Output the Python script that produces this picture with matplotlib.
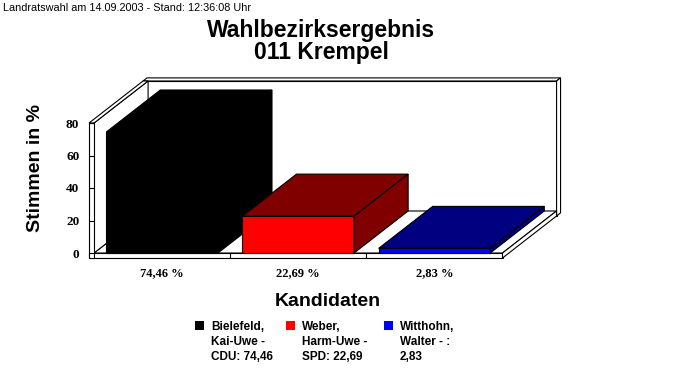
import matplotlib
matplotlib.use("Agg")
import matplotlib.pyplot as plt
from matplotlib.patches import Polygon, Rectangle

# Daten
kandidaten = ["Bielefeld,\nKai-Uwe -\nCDU: 74,46",
              "Weber,\nHarm-Uwe -\nSPD: 22,69",
              "Witthohn,\nWalter - :\n2,83"]
anteile = [74.46, 22.69, 2.83]
werte_text = ["74,46 %", "22,69 %", "2,83 %"]
front_farben = ["#000000", "#ff0000", "#0000ff"]
seiten_farben = ["#000000", "#800000", "#000080"]
yticks = [0, 20, 40, 60, 80]

W, H = 683, 380
SANS = ["Liberation Sans", "DejaVu Sans"]
SERIF = ["Liberation Serif", "DejaVu Serif"]

fig = plt.figure(figsize=(W / 100, H / 100), dpi=100)
ax = fig.add_axes([89 / W, 1 - 253 / H, 413.5 / W, 130 / H])
ax.set_xlim(-0.537, 2.5)
ax.set_ylim(0, 80)
for s in ax.spines.values():
    s.set_visible(False)
ax.patch.set_visible(False)

# schraege Tiefe (in Datenkoordinaten)
DX, DY = 0.397, 25.85
WAND = 0.037
BODEN = 3.08


def proj(x, y, z):
    return (x + z * DX, y + z * DY)


def face(pts, color, z=1):
    ax.add_patch(Polygon([proj(*p) for p in pts], closed=True, fc=color,
                         ec="black", lw=0.8, clip_on=False, zorder=z))


def box(x0, x1, y0, y1, z0, z1, front, side, z=1):
    face([(x0, y0, z0), (x1, y0, z0), (x1, y1, z0), (x0, y1, z0)], front, z)
    face([(x0, y1, z0), (x1, y1, z0), (x1, y1, z1), (x0, y1, z1)], side, z)
    face([(x1, y0, z0), (x1, y0, z1), (x1, y1, z1), (x1, y1, z0)], side, z)


x0 = -0.5 - WAND
# Rueckwand
box(x0, 2.5, -BODEN, 80, 1, 1.074, "white", "white", z=1)
# Boden
face([(x0, -BODEN, 0), (2.5, -BODEN, 0), (2.5, 0, 0), (x0, 0, 0)], "white", 1)
face([(-0.5, 0, 0), (2.5, 0, 0), (2.5, 0, 1), (-0.5, 0, 1)], "white", 1)
face([(2.5, -BODEN, 0), (2.5, -BODEN, 1), (2.5, 0, 1), (2.5, 0, 0)], "white", 1)
ax.vlines([0.5, 1.5], -BODEN, 0, colors="black", lw=0.8, clip_on=False, zorder=2)
# linke Wand
face([(-0.5, 0, 0), (-0.5, 0, 1), (-0.5, 80, 1), (-0.5, 80, 0)], "white", 1)
face([(x0, 80, 0), (-0.5, 80, 0), (-0.5, 80, 1), (x0, 80, 1)], "white", 1)
face([(x0, -BODEN, 0), (-0.5, -BODEN, 0), (-0.5, 80, 0), (x0, 80, 0)], "white", 1)

# Balken
breite = 0.82
for i, v in enumerate(anteile):
    box(i - breite / 2, i + breite / 2, 0, v, 0, 1,
        front_farben[i], seiten_farben[i], z=3)

ax.set_yticks(yticks)
ax.set_yticklabels([str(t) for t in yticks], fontfamily=SERIF,
                   fontweight="bold", fontsize=9.5)
ax.tick_params(axis="y", direction="in", length=3.6, width=0.8, pad=7)
ax.set_xticks(range(len(werte_text)))
ax.set_xticklabels(werte_text, fontfamily=SERIF, fontweight="bold", fontsize=9)
ax.tick_params(axis="x", length=0, pad=10.5)
for t in ax.get_yticklines() + ax.get_xticklines():
    t.set_zorder(5)

# Texte
fig.text(3 / W, 1 - 11 / H, "Landratswahl am 14.09.2003 - Stand: 12:36:08 Uhr",
         fontsize=7.8, family=SANS, va="baseline", ha="left")
fig.text(321 / W, 1 - 19.5 / H, "Wahlbezirksergebnis\n011 Krempel", fontsize=16.5,
         fontweight="bold", family=SANS, ha="center", va="top",
         multialignment="center", linespacing=0.9)
fig.text(36 / W, 1 - 168 / H, "Stimmen in %", fontsize=14, fontweight="bold",
         family=SANS, rotation=90, ha="center", va="center")
fig.text(328 / W, 1 - 306 / H, "Kandidaten", fontsize=14, fontweight="bold",
         family=SANS, ha="center", va="baseline")

# Legende
leg_x = [195, 286, 384]
for i, lab in enumerate(kandidaten):
    fig.add_artist(Rectangle((leg_x[i] / W, 1 - 330 / H), 9 / W, 9 / H,
                             transform=fig.transFigure, fc=front_farben[i],
                             ec="none"))
    for j, zeile in enumerate(lab.split("\n")):
        fig.text((leg_x[i] + 16) / W, 1 - (330 + 15 * j) / H, zeile,
                 fontsize=8.5, fontweight="bold", family=SANS,
                 ha="left", va="baseline")

fig.savefig("out.png", dpi=100)
